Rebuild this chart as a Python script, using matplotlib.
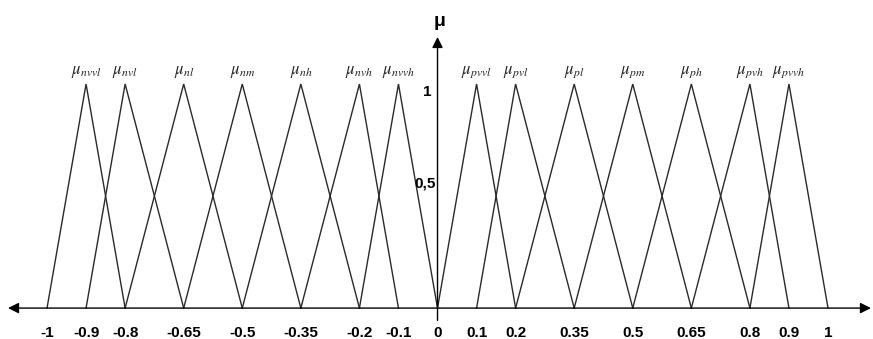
import matplotlib
matplotlib.use('Agg')
import matplotlib.pyplot as plt

plt.rcParams['mathtext.fontset'] = 'stix'

# breakpoints of the universe of discourse (x-axis tick values)
tick_values = [-1, -0.9, -0.8, -0.65, -0.5, -0.35, -0.2, -0.1, 0,
               0.1, 0.2, 0.35, 0.5, 0.65, 0.8, 0.9, 1]
tick_labels = ['-1', '-0.9', '-0.8', '-0.65', '-0.5', '-0.35', '-0.2', '-0.1', '0',
               '0.1', '0.2', '0.35', '0.5', '0.65', '0.8', '0.9', '1']

# negative fuzzy sets: (left foot, peak, right foot)
neg_names = ['nvvl', 'nvl', 'nl', 'nm', 'nh', 'nvh', 'nvvh']
neg_left = [-1, -0.9, -0.8, -0.65, -0.5, -0.35, -0.2]
neg_peak = [-0.9, -0.8, -0.65, -0.5, -0.35, -0.2, -0.1]
neg_right = [-0.8, -0.65, -0.5, -0.35, -0.2, -0.1, 0]

# positive fuzzy sets
pos_names = ['pvvl', 'pvl', 'pl', 'pm', 'ph', 'pvh', 'pvvh']
pos_left = [0, 0.1, 0.2, 0.35, 0.5, 0.65, 0.8]
pos_peak = [0.1, 0.2, 0.35, 0.5, 0.65, 0.8, 0.9]
pos_right = [0.2, 0.35, 0.5, 0.65, 0.8, 0.9, 1]

y_tick_values = [1, 0.5]
y_tick_labels = ['1', '0,5']

fig = plt.figure(figsize=(8.73, 3.39), dpi=100)
ax = fig.add_axes([0, 0, 1, 1])
ax.set_xlim(-1.1204, 1.1152)
ax.set_ylim(-0.138, 1.375)
ax.axis('off')

line_col = '#2a2a2a'
names = neg_names + pos_names
lefts = neg_left + pos_left
peaks = neg_peak + pos_peak
rights = neg_right + pos_right
for name, l, p, r in zip(names, lefts, peaks, rights):
    ax.plot([l, p, r], [0, 1, 0], color=line_col, lw=1.0, solid_joinstyle='miter')
    ax.text(p, 1.06, r'$\mu_{%s}$' % name, ha='center', va='center',
            fontsize=12, color='#222222')

# x axis with arrows on both ends
ax.annotate('', xy=(1.110, 0), xytext=(-1.0999, 0),
            arrowprops=dict(arrowstyle='<|-|>', color='black', lw=1.0,
                            mutation_scale=16, shrinkA=0, shrinkB=0))
# y axis
ax.annotate('', xy=(0, 1.21), xytext=(0, -0.055),
            arrowprops=dict(arrowstyle='-|>', color='black', lw=1.0,
                            mutation_scale=16, shrinkA=0, shrinkB=0))
ax.text(0.005, 1.28, 'μ', ha='center', va='center', fontsize=14,
        fontweight='bold', family='Liberation Sans')

for v, lab in zip(tick_values, tick_labels):
    ax.text(v, -0.112, lab, ha='center', va='center', fontsize=11,
            fontweight='bold', family='Liberation Sans')

ax.text(-0.027, 0.964, y_tick_labels[0], ha='center', va='center', fontsize=11,
        fontweight='bold', family='Liberation Sans')
ax.text(-0.004, 0.558, y_tick_labels[1], ha='right', va='center', fontsize=11,
        fontweight='bold', family='Liberation Sans')

fig.savefig('out.png', dpi=100, facecolor='white')
